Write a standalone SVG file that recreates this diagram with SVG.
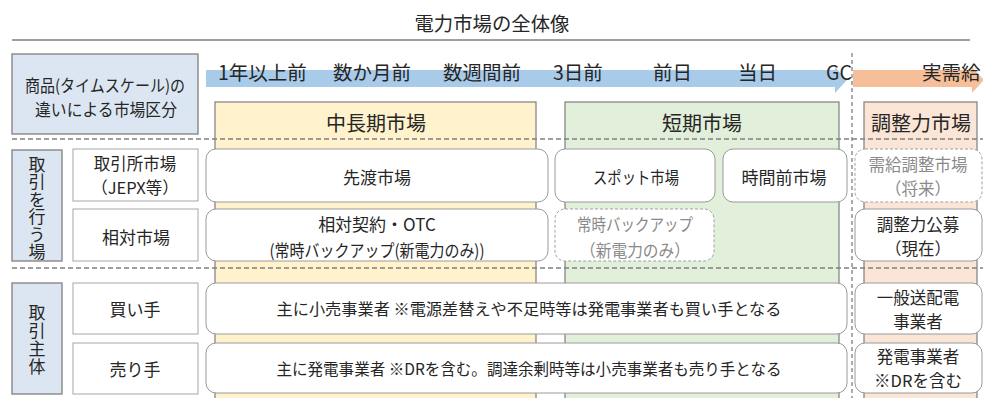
<svg xmlns="http://www.w3.org/2000/svg" width="983" height="398" viewBox="0 0 983 398">
<style>
text{font-family:"Noto Sans CJK JP","Noto Sans CJK SC",sans-serif;fill:#262626;dominant-baseline:central}
.t{font-size:17px;text-anchor:middle}
.m{font-size:16.5px;text-anchor:middle}
.s{font-size:16px;text-anchor:middle}
.g{fill:#8a8a8a}
.time{font-size:19.5px}
.hdr{font-size:20px;text-anchor:middle}
.v{font-size:17px;text-anchor:middle;writing-mode:vertical-rl}
.lbl{fill:#dce6f2;stroke:#7f7f7f;stroke-width:1.3}
.cell{fill:#fff;stroke:#a6a6a6;stroke-width:1}
.rb{fill:#fff;stroke:#9a9a9a;stroke-width:1}
.rbd{fill:#fff;stroke:#a0a0a0;stroke-width:1;stroke-dasharray:3 2}
.sep{stroke:#808080;stroke-width:1.3;stroke-dasharray:5 3;fill:none}
.col{stroke:#7f7f7f;stroke-width:1.2}
</style>
<rect width="983" height="398" fill="#fff"/>
<g id="title">
<text x="492" y="22" style="font-size:19px;text-anchor:middle" textLength="155" lengthAdjust="spacingAndGlyphs">電力市場の全体像</text>
<line x1="12" y1="40" x2="970" y2="40" stroke="#808080" stroke-width="1.5"/>
</g>
<g id="columns">
<rect id="col-mid-long" class="col" x="215" y="102" width="321" height="300" fill="#fff2cc"/>
<rect id="col-short" class="col" x="565" y="102" width="274" height="300" fill="#e2efda"/>
<rect id="col-balancing" class="col" x="864" y="102" width="113" height="300" fill="#fbe5d6"/>
</g>
<g id="connectors">
<polygon points="206,70 835,70 835,67 847,80 835,93 835,87 206,87" fill="#a9cbea"/>
<polygon points="853,70 972,70 972,67 984,80 972,93 972,87 853,87" fill="#f6bf99"/>
</g>
<g id="separators">
<line class="sep" x1="12" y1="139" x2="983" y2="139"/>
<line class="sep" x1="12" y1="268" x2="983" y2="268"/>
<line class="sep" x1="852" y1="53" x2="852" y2="398" style="stroke-dasharray:4 3"/>
</g>
<g id="timeline-labels">
<text class="time" x="218" y="71">1年以上前</text>
<text class="time" x="333" y="71">数か月前</text>
<text class="time" x="443" y="71">数週間前</text>
<text class="time" x="553" y="71">3日前</text>
<text class="time" x="653" y="71">前日</text>
<text class="time" x="738" y="71">当日</text>
<text class="time" x="826" y="71">GC</text>
<text class="time" x="922" y="71">実需給</text>
</g>
<g id="headers">
<text class="hdr" x="376" y="122">中長期市場</text>
<text class="hdr" x="702" y="122">短期市場</text>
<text class="hdr" x="921" y="122">調整力市場</text>
</g>
<g id="node-category">
<rect class="lbl" x="12" y="54" width="186" height="80"/>
<text class="m"><tspan x="105" y="85" textLength="160" lengthAdjust="spacingAndGlyphs">商品(タイムスケール)の</tspan><tspan x="106" y="109" textLength="142" lengthAdjust="spacingAndGlyphs">違いによる市場区分</tspan></text>
</g>
<g id="node-venue">
<rect class="lbl" x="12" y="150" width="50" height="111"/>
<text class="v" x="37" y="208.5" style="letter-spacing:0.5px">取引を行う場</text>
</g>
<g id="node-party">
<rect class="lbl" x="12" y="283" width="50" height="111"/>
<text class="v" x="37" y="340" style="letter-spacing:1px">取引主体</text>
</g>
<g id="node-exchange">
<rect class="cell" x="73" y="149" width="125" height="52"/>
<text class="m"><tspan x="135" y="163">取引所市場</tspan><tspan x="135" y="187">（JEPX等）</tspan></text>
</g>
<g id="node-otc-label">
<rect class="cell" x="73" y="209" width="125" height="52"/>
<text class="t" x="136" y="236">相対市場</text>
</g>
<g id="node-buyer">
<rect class="cell" x="73" y="283" width="125" height="51"/>
<text class="t" x="135" y="308">買い手</text>
</g>
<g id="node-seller">
<rect class="cell" x="73" y="343" width="125" height="51"/>
<text class="t" x="135" y="368">売り手</text>
</g>
<g id="node-forward">
<rect class="rb" x="206" y="149" width="342" height="53" rx="10"/>
<text class="t" x="377" y="176">先渡市場</text>
</g>
<g id="node-spot">
<rect class="rb" x="555" y="149" width="160" height="53" rx="10"/>
<text class="t" x="636" y="176" textLength="86" lengthAdjust="spacingAndGlyphs">スポット市場</text>
</g>
<g id="node-intraday">
<rect class="rb" x="723" y="149" width="124" height="53" rx="10"/>
<text class="t" x="784" y="176">時間前市場</text>
</g>
<g id="node-balancing-future">
<rect class="rbd" x="855" y="149" width="127" height="53" rx="10"/>
<text class="m g"><tspan x="918" y="164">需給調整市場</tspan><tspan x="918" y="188">（将来）</tspan></text>
</g>
<g id="node-otc">
<rect class="rb" x="206" y="209" width="342" height="52" rx="10"/>
<text class="t"><tspan x="377" y="223">相対契約・OTC</tspan><tspan x="377" y="249" textLength="215" lengthAdjust="spacingAndGlyphs">(常時バックアップ(新電力のみ))</tspan></text>
</g>
<g id="node-backup">
<rect class="rbd" x="555" y="209" width="159" height="52" rx="10"/>
<text class="t g"><tspan x="635" y="223" textLength="116" lengthAdjust="spacingAndGlyphs">常時バックアップ</tspan><tspan x="635" y="249" textLength="110" lengthAdjust="spacingAndGlyphs">（新電力のみ）</tspan></text>
</g>
<g id="node-balancing-now">
<rect class="rb" x="855" y="209" width="127" height="52" rx="10"/>
<text class="m"><tspan x="918" y="224">調整力公募</tspan><tspan x="918" y="248">（現在）</tspan></text>
</g>
<g id="node-buyers-main">
<rect class="rb" x="206" y="283" width="641" height="51" rx="10"/>
<text class="s" x="529" y="308" textLength="505" lengthAdjust="spacingAndGlyphs">主に小売事業者 ※電源差替えや不足時等は発電事業者も買い手となる</text>
</g>
<g id="node-buyers-balancing">
<rect class="rb" x="855" y="283" width="127" height="51" rx="10"/>
<text class="m"><tspan x="918" y="297">一般送配電</tspan><tspan x="918" y="321">事業者</tspan></text>
</g>
<g id="node-sellers-main">
<rect class="rb" x="206" y="343" width="641" height="50" rx="10"/>
<text class="s" x="529" y="368" textLength="505" lengthAdjust="spacingAndGlyphs">主に発電事業者 ※DRを含む。調達余剰時等は小売事業者も売り手となる</text>
</g>
<g id="node-sellers-balancing">
<rect class="rb" x="855" y="343" width="127" height="50" rx="10"/>
<text class="m"><tspan x="918" y="356">発電事業者</tspan><tspan x="918" y="380">※DRを含む</tspan></text>
</g>
</svg>
